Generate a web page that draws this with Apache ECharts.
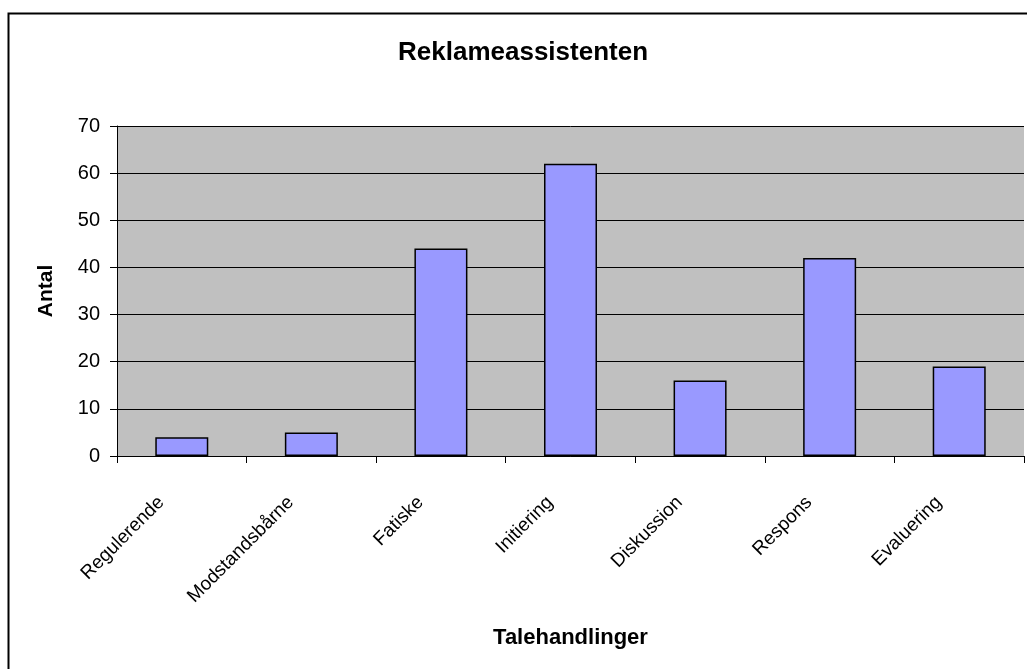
<!DOCTYPE html>
<html>
<head>
<meta charset="utf-8">
<script src="https://cdn.jsdelivr.net/npm/echarts@6/dist/echarts.min.js"></script>
<style>
html,body{margin:0;padding:0;background:#fff;}
#chart{width:1027px;height:669px;}
</style>
</head>
<body>
<div id="chart"></div>
<script>
const categories = ["Regulerende", "Modstandsbårne", "Fatiske", "Initiering", "Diskussion", "Respons", "Evaluering"];
const values = [4, 5, 44, 62, 16, 42, 19];
const yTicks = [0, 10, 20, 30, 40, 50, 60, 70];
const titleText = "Reklameassistenten";
const xName = "Talehandlinger";
const yName = "Antal";

const FONT = "'Liberation Sans', Arial, sans-serif";
const chart = echarts.init(document.getElementById('chart'), null, {renderer: 'canvas'});
chart.setOption({
  animation: false,
  backgroundColor: '#ffffff',
  title: {
    text: titleText,
    left: 398,
    top: 40,
    padding: 0,
    textStyle: {fontFamily: FONT, fontSize: 26, fontWeight: 'bold', color: '#000'}
  },
  graphic: [{
    type: 'rect',
    shape: {x: 8.5, y: 13.5, width: 1100, height: 700},
    style: {fill: 'none', stroke: '#000', lineWidth: 2},
    silent: true,
    z: -1
  }],
  grid: {
    left: 117, right: 3, top: 126, bottom: 213,
    show: true, backgroundColor: '#C0C0C0', borderWidth: 0
  },
  xAxis: {
    type: 'category',
    data: categories,
    name: xName,
    nameLocation: 'middle',
    nameGap: 171,
    nameTextStyle: {fontFamily: FONT, fontSize: 22, fontWeight: 'bold', color: '#000'},
    axisLine: {lineStyle: {color: '#000', width: 1}},
    axisTick: {show: true, length: 7, lineStyle: {color: '#000'}},
    axisLabel: {
      rotate: 45,
      interval: 0,
      margin: 23,
      padding: [0, 29, 0, 0],
      fontFamily: FONT, fontSize: 19, color: '#000'
    },
    splitLine: {show: false}
  },
  yAxis: {
    type: 'value',
    min: 0, max: 70, interval: 10,
    name: yName,
    nameLocation: 'middle',
    nameGap: 60,
    nameRotate: 90,
    nameTextStyle: {fontFamily: FONT, fontSize: 21, fontWeight: 'bold', color: '#000'},
    axisLine: {show: true, lineStyle: {color: '#000', width: 1}},
    axisTick: {show: true, length: 7, lineStyle: {color: '#000'}},
    axisLabel: {
      margin: 17,
      fontFamily: FONT, fontSize: 20, color: '#000',
      formatter: function (v) { return yTicks.indexOf(v) >= 0 ? String(v) : ''; }
    },
    splitLine: {show: true, lineStyle: {color: '#000', width: 1}}
  },
  series: [{
    type: 'bar',
    data: values,
    barWidth: 53,
    itemStyle: {color: '#9999FF', borderColor: '#000', borderWidth: 1.5}
  }]
});
</script>
</body>
</html>
